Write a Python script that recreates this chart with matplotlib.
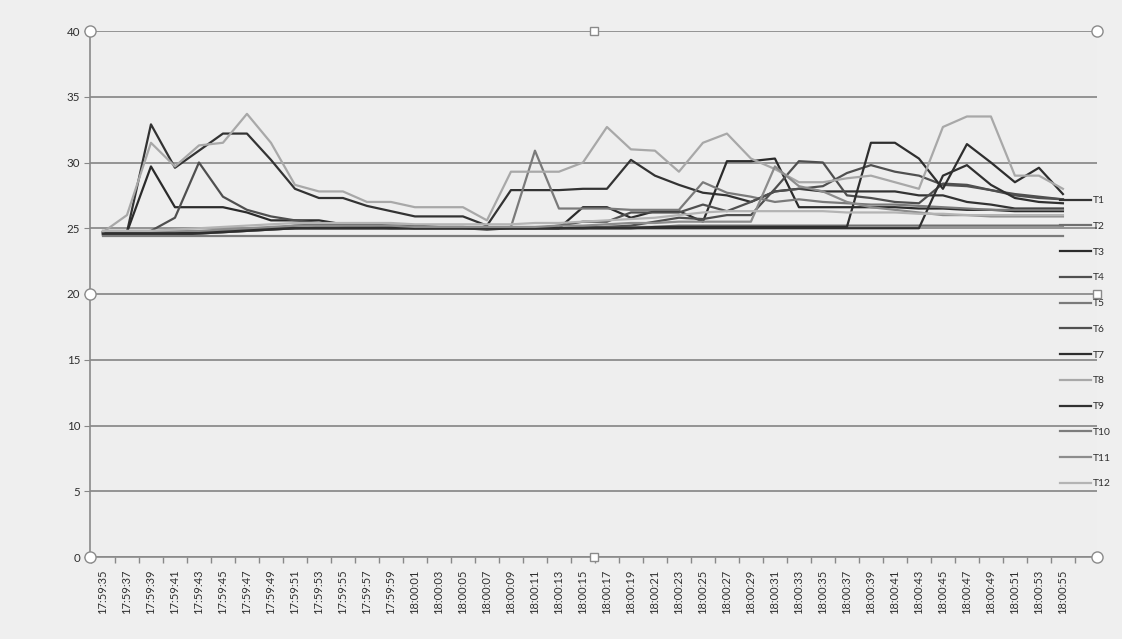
import matplotlib
matplotlib.use('Agg')
import matplotlib.pyplot as plt

# sampling times, one reading every 2 seconds
times = ['17:59:%02d' % s for s in range(35, 60, 2)] + ['18:00:%02d' % s for s in range(1, 56, 2)]

T1 = [24.7, 24.7, 32.9, 29.6, 30.9, 32.2, 32.2, 30.2, 28.0, 27.3, 27.3, 26.7, 26.3, 25.9, 25.9, 25.9, 25.2,
      27.9, 27.9, 27.9, 28.0, 28.0, 30.2, 29.0, 28.3, 27.7, 27.5, 27.0, 27.8, 28.0, 27.8, 27.8, 27.8, 27.8,
      27.5, 27.5, 27.0, 26.8, 26.5, 26.5, 26.5]
T2 = [24.6, 24.6, 24.6, 24.6, 24.6, 24.7, 24.8, 24.9, 25.0, 25.1, 25.1, 25.1, 25.1, 25.0, 25.0, 25.0, 25.0,
      25.0, 25.0, 25.0, 25.0, 25.1, 25.1, 25.1, 25.2, 25.2, 25.2, 25.2, 25.2, 25.2, 25.2, 25.2, 25.2, 25.2,
      25.2, 25.2, 25.2, 25.2, 25.2, 25.2, 25.2]
T3 = [24.7, 24.7, 29.7, 26.6, 26.6, 26.6, 26.2, 25.6, 25.6, 25.6, 25.3, 25.2, 25.1, 25.0, 25.0, 25.0, 24.9,
      25.0, 25.0, 25.0, 26.6, 26.6, 25.8, 26.3, 26.3, 25.5, 30.1, 30.1, 30.3, 26.6, 26.6, 26.6, 26.6, 26.6,
      26.5, 26.5, 26.4, 26.4, 26.3, 26.3, 26.3]
T4 = [24.6, 24.6, 24.8, 25.8, 30.0, 27.4, 26.4, 25.9, 25.6, 25.4, 25.2, 25.1, 25.0, 25.0, 25.0, 25.0, 25.0,
      25.0, 25.0, 25.0, 25.1, 25.1, 25.2, 25.5, 25.8, 25.7, 26.0, 26.0, 28.0, 30.1, 30.0, 27.5, 27.3, 27.0,
      26.9, 28.4, 28.3, 27.9, 27.6, 27.4, 27.2]
T5 = [24.6, 24.6, 24.6, 24.6, 24.6, 24.7, 24.8, 24.9, 25.0, 25.0, 25.0, 25.0, 25.0, 25.0, 25.0, 25.0, 25.0,
      25.1, 30.9, 26.5, 26.5, 26.5, 26.4, 26.4, 26.4, 28.5, 27.7, 27.4, 27.0, 27.2, 27.0, 26.9, 26.8, 26.8,
      26.7, 26.6, 26.5, 26.4, 26.4, 26.4, 26.4]
T6 = [24.7, 24.7, 24.7, 24.7, 24.7, 24.8, 24.9, 25.0, 25.2, 25.3, 25.3, 25.3, 25.2, 25.2, 25.1, 25.1, 25.0,
      25.0, 25.0, 25.2, 25.5, 25.5, 26.2, 26.2, 26.2, 26.8, 26.3, 27.0, 27.8, 28.0, 28.2, 29.2, 29.8, 29.3,
      29.0, 28.3, 28.2, 27.9, 27.5, 27.3, 27.2]
T7 = [24.5, 24.5, 24.5, 24.5, 24.6, 24.7, 24.8, 24.9, 25.0, 25.0, 25.0, 25.0, 25.0, 25.0, 25.0, 25.0, 25.0,
      25.0, 25.0, 25.0, 25.0, 25.0, 25.0, 25.1, 25.1, 25.1, 25.1, 25.1, 25.1, 25.1, 25.1, 25.1, 31.5, 31.5,
      30.3, 28.0, 31.4, 30.0, 28.5, 29.6, 27.6]
T8 = [24.7, 26.0, 31.5, 29.7, 31.3, 31.5, 33.7, 31.5, 28.3, 27.8, 27.8, 27.0, 27.0, 26.6, 26.6, 26.6, 25.6,
      29.3, 29.3, 29.3, 30.0, 32.7, 31.0, 30.9, 29.3, 31.5, 32.2, 30.3, 29.5, 28.5, 28.5, 28.8, 29.0, 28.5,
      28.0, 32.7, 33.5, 33.5, 29.0, 29.0, 28.0]
T9 = [24.6, 24.6, 24.6, 24.6, 24.7, 24.8, 24.9, 25.0, 25.0, 25.0, 25.0, 25.0, 25.0, 25.0, 25.0, 25.0, 25.0,
      25.0, 25.0, 25.0, 25.0, 25.0, 25.0, 25.0, 25.0, 25.0, 25.0, 25.0, 25.0, 25.0, 25.0, 25.0, 25.0, 25.0,
      25.0, 29.0, 29.8, 28.3, 27.3, 27.0, 26.9]
T10 = [24.4, 24.4, 24.4, 24.4, 24.4, 24.4, 24.4, 24.4, 24.4, 24.4, 24.4, 24.4, 24.4, 24.4, 24.4, 24.4, 24.4,
       24.4, 24.4, 24.4, 24.4, 24.4, 24.4, 24.4, 24.4, 24.4, 24.4, 24.4, 24.4, 24.4, 24.4, 24.4, 24.4, 24.4,
       24.4, 24.4, 24.4, 24.4, 24.4, 24.4, 24.4]
T11 = [24.8, 24.8, 24.8, 24.8, 24.8, 24.9, 25.0, 25.1, 25.2, 25.2, 25.2, 25.2, 25.2, 25.1, 25.1, 25.1, 25.1,
       25.1, 25.1, 25.2, 25.2, 25.3, 25.4, 25.4, 25.5, 25.5, 25.5, 25.5, 29.7, 28.2, 27.8, 27.0, 26.6, 26.4,
       26.2, 26.0, 26.0, 25.9, 25.9, 25.9, 25.9]
T12 = [24.8, 24.8, 24.8, 24.9, 25.0, 25.1, 25.2, 25.3, 25.4, 25.4, 25.4, 25.4, 25.4, 25.3, 25.3, 25.3, 25.3,
       25.3, 25.4, 25.4, 25.5, 25.6, 25.7, 25.8, 26.0, 26.2, 26.3, 26.3, 26.3, 26.3, 26.3, 26.2, 26.2, 26.2,
       26.1, 26.1, 26.0, 26.0, 26.0, 26.0, 26.0]

series = [T1, T2, T3, T4, T5, T6, T7, T8, T9, T10, T11, T12]
names = ['T%d' % (k + 1) for k in range(12)]
colors = ['#333333', '#6f6f6f', '#2b2b2b', '#4f4f4f', '#7a7a7a', '#505050',
          '#2e2e2e', '#a8a8a8', '#303030', '#7c7c7c', '#8c8c8c', '#b4b4b4']

plt.rcParams['font.family'] = ['Lato', 'DejaVu Sans']

fig = plt.figure(figsize=(11.22, 6.39), dpi=100, facecolor='#efefef')
ax = fig.add_axes([90 / 1122, 1 - 557 / 639, 1007 / 1122, 526 / 639])
ax.set_facecolor('#eeeeee')

x = list(range(len(times)))
handles = []
for vals, name, c in zip(series, names, colors):
    h, = ax.plot(x, vals, color=c, lw=1.6, label=name)
    handles.append(h)

ax.set_xlim(-0.54, 41.42)
ax.set_ylim(0, 40)
ax.set_yticks(range(0, 41, 5))
ax.yaxis.grid(True, color='#7a7a7a', lw=1.1)
ax.set_axisbelow(True)

ax.set_xticks(x)
ax.set_xticklabels(times, rotation=90, fontsize=8, color='#2e2e2e')
ax.set_xticks([i + 0.5 for i in range(-1, 41)], minor=True)
ax.tick_params(axis='x', which='major', length=0, pad=9)
ax.tick_params(axis='x', which='minor', length=4, color='#888888', width=1)
ax.tick_params(axis='y', length=4, color='#888888', labelsize=8.3, labelcolor='#2e2e2e', pad=3)

for side in ['top', 'right']:
    ax.spines[side].set_visible(False)
for side in ['left', 'bottom']:
    ax.spines[side].set_color('#8a8a8a')
    ax.spines[side].set_linewidth(1.2)

# series key stacked down the right edge
leg = ax.legend(handles=handles, loc='upper left', bbox_to_anchor=(1060 / 1122, 1 - 196 / 639),
                bbox_transform=fig.transFigure, frameon=False, fontsize=7.4, handlelength=3.0,
                handletextpad=0.2, labelspacing=1.61, borderaxespad=0, borderpad=0)
for t in leg.get_texts():
    t.set_color('#2e2e2e')

# plot-area selection handles
circ = [(0, 1), (1, 1), (0, 0), (1, 0), (0, 0.5)]
sq = [(0.5, 1), (0.5, 0), (1, 0.5)]
for px, py in circ:
    ax.plot(px, py, 'o', ms=8, mfc='white', mec='#8a8a8a', mew=1, transform=ax.transAxes, clip_on=False, zorder=10)
for px, py in sq:
    ax.plot(px, py, 's', ms=6, mfc='white', mec='#8a8a8a', mew=1, transform=ax.transAxes, clip_on=False, zorder=10)

fig.savefig('out.png', dpi=100, facecolor=fig.get_facecolor())
